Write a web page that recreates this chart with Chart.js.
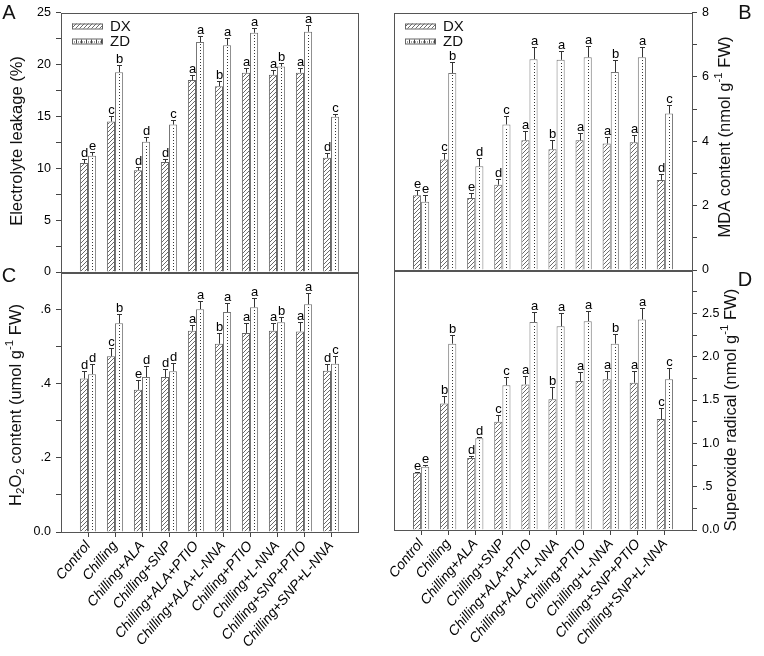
<!DOCTYPE html>
<html>
<head>
<meta charset="utf-8">
<script src="https://cdn.jsdelivr.net/npm/chart.js@4.4.1/dist/chart.umd.min.js"></script>
<style>
  html, body { margin: 0; padding: 0; background: #fff; }
  #wrap { position: relative; width: 764px; height: 656px; }
  #wrap canvas { position: absolute; left: 0; top: 0; }
</style>
</head>
<body>
<div id="wrap">
  <canvas id="panelA" width="764" height="656"></canvas>
  <canvas id="panelB" width="764" height="656"></canvas>
  <canvas id="panelC" width="764" height="656"></canvas>
  <canvas id="panelD" width="764" height="656"></canvas>
</div>
<script>
/* global Chart */
const treatments = [
  'Control', 'Chilling', 'Chilling+ALA', 'Chilling+SNP', 'Chilling+ALA+PTIO',
  'Chilling+ALA+L-NNA', 'Chilling+PTIO', 'Chilling+L-NNA', 'Chilling+SNP+PTIO', 'Chilling+SNP+L-NNA',
]

// A - electrolyte leakage (%)
const leakDX = [10.5, 14.5, 9.8, 10.6, 18.5, 17.9, 19.2, 19.0, 19.2, 11.0]
const leakDXErr = [0.4, 0.5, 0.35, 0.3, 0.5, 0.5, 0.5, 0.5, 0.5, 0.45]
const leakZD = [11.2, 19.25, 12.55, 14.2, 22.15, 21.85, 23.05, 19.8, 23.15, 14.95]
const leakZDErr = [0.4, 0.65, 0.45, 0.45, 0.6, 0.65, 0.45, 0.3, 0.6, 0.3]
const leakDXLetters = ['d', 'c', 'd', 'd', 'a', 'b', 'a', 'a', 'a', 'd']
const leakZDLetters = ['e', 'b', 'd', 'c', 'a', 'a', 'a', 'b', 'a', 'c']

// B - MDA content
const mdaDX = [2.32, 3.43, 2.24, 2.65, 4.03, 3.75, 4.03, 3.93, 3.97, 2.8]
const mdaDXErr = [0.15, 0.22, 0.15, 0.18, 0.3, 0.3, 0.23, 0.2, 0.23, 0.17]
const mdaZD = [2.12, 6.12, 3.22, 4.52, 6.55, 6.53, 6.61, 6.15, 6.61, 4.86]
const mdaZDErr = [0.2, 0.33, 0.26, 0.28, 0.37, 0.26, 0.35, 0.38, 0.31, 0.28]
const mdaDXLetters = ['e', 'c', 'e', 'd', 'a', 'b', 'a', 'a', 'a', 'd']
const mdaZDLetters = ['e', 'b', 'd', 'c', 'a', 'a', 'a', 'b', 'a', 'c']

// C - H2O2 content
const h2o2DX = [0.413, 0.473, 0.383, 0.417, 0.542, 0.507, 0.536, 0.542, 0.540, 0.434]
const h2o2DXErr = [0.021, 0.022, 0.025, 0.022, 0.014, 0.029, 0.026, 0.021, 0.025, 0.018]
const h2o2ZD = [0.425, 0.562, 0.417, 0.433, 0.600, 0.592, 0.605, 0.565, 0.613, 0.453]
const h2o2ZDErr = [0.027, 0.024, 0.031, 0.022, 0.022, 0.024, 0.025, 0.015, 0.030, 0.021]
const h2o2DXLetters = ['d', 'c', 'e', 'd', 'a', 'b', 'a', 'a', 'a', 'd']
const h2o2ZDLetters = ['d', 'b', 'd', 'd', 'a', 'a', 'a', 'b', 'a', 'c']

// D - superoxide radical
const superDX = [0.66, 1.46, 0.83, 1.25, 1.68, 1.51, 1.72, 1.74, 1.70, 1.28]
const superDXErr = [0.01, 0.09, 0.02, 0.08, 0.1, 0.14, 0.1, 0.09, 0.13, 0.13]
const superZD = [0.73, 2.15, 1.06, 1.67, 2.40, 2.35, 2.41, 2.15, 2.43, 1.74]
const superZDErr = [0.015, 0.1, 0.015, 0.1, 0.12, 0.15, 0.12, 0.11, 0.13, 0.13]
const superDXLetters = ['e', 'b', 'd', 'c', 'a', 'b', 'a', 'a', 'a', 'c']
const superZDLetters = ['e', 'b', 'd', 'c', 'a', 'a', 'a', 'b', 'a', 'c']

const FONT = '"Liberation Sans", Arial, Helvetica, sans-serif'
const LINE = '#555'

// empty slot at both ends so the groups sit one step in from the frame
const pad = (arr) => [null, ...arr, null]

function hatchPattern() {
  const c = document.createElement('canvas')
  c.width = 4
  c.height = 4
  const g = c.getContext('2d')
  g.fillStyle = '#fff'
  g.fillRect(0, 0, 4, 4)
  g.strokeStyle = '#6a6a6a'
  g.lineWidth = 1
  g.beginPath()
  g.moveTo(0, 4); g.lineTo(4, 0)
  g.moveTo(-1, 1); g.lineTo(1, -1)
  g.moveTo(3, 5); g.lineTo(5, 3)
  g.stroke()
  return g.createPattern(c, 'repeat')
}

function drawRich(ctx, segs, cx, cy, size) {
  const small = size * 0.7
  ctx.save()
  ctx.translate(cx, cy)
  ctx.rotate(-Math.PI / 2)
  ctx.textBaseline = 'middle'
  ctx.textAlign = 'left'
  ctx.fillStyle = '#111'
  let total = 0
  segs.forEach(([t, kind]) => {
    ctx.font = `${kind ? small : size}px ${FONT}`
    total += ctx.measureText(t).width
  })
  let x = -total / 2
  segs.forEach(([t, kind]) => {
    ctx.font = `${kind ? small : size}px ${FONT}`
    const dy = kind === 'sub' ? size * 0.3 : kind === 'sup' ? -size * 0.38 : 0
    ctx.fillText(t, x, dy)
    x += ctx.measureText(t).width
  })
  ctx.restore()
}

function decorPlugin(p) {
  return {
    id: 'decor',
    afterDatasetsDraw(chart) {
      const { ctx, chartArea: a } = chart
      const yScale = chart.scales.y
      ctx.save()

      // dotted centre line of the ZD bars
      chart.getDatasetMeta(1).data.forEach((bar, i) => {
        if (chart.data.datasets[1].data[i] == null) return
        ctx.fillStyle = '#333'
        for (let y = bar.base - 3; y > bar.y + 1; y -= 3) {
          ctx.fillRect(Math.round(bar.x), Math.round(y), 1, 1)
        }
      })

      // error bars + letters
      const sets = [[p.dx, p.dxErr, p.dxLetters], [p.zd, p.zdErr, p.zdLetters]]
      sets.forEach(([vals, errs, letters], di) => {
        chart.getDatasetMeta(di).data.forEach((bar, i) => {
          const k = i - 1
          if (k < 0 || k >= vals.length) return
          const x = Math.round(bar.x) + 0.5
          const yTop = Math.round(yScale.getPixelForValue(vals[k] + errs[k])) + 0.5
          ctx.strokeStyle = '#333'
          ctx.lineWidth = 1
          ctx.beginPath()
          ctx.moveTo(x, bar.y)
          ctx.lineTo(x, yTop)
          ctx.moveTo(x - 2.5, yTop)
          ctx.lineTo(x + 2.5, yTop)
          ctx.stroke()
          ctx.fillStyle = '#000'
          ctx.font = `13px ${FONT}`
          ctx.textAlign = 'center'
          ctx.textBaseline = 'bottom'
          ctx.fillText(letters[k], x, yTop)
        })
      })

      // frame
      ctx.strokeStyle = LINE
      ctx.lineWidth = 1
      ctx.strokeRect(Math.round(a.left) + 0.5, Math.round(a.top) + 0.5,
        Math.round(a.right - a.left), Math.round(a.bottom - a.top))

      // legend
      if (p.legend) {
        const lx = a.left + 11
        const ly = a.top + 11
        ctx.fillStyle = hatchPattern()
        ctx.fillRect(lx, ly, 30, 5)
        ctx.strokeStyle = '#666'
        ctx.strokeRect(lx + 0.5, ly + 0.5, 30, 5)
        ctx.fillStyle = '#fff'
        ctx.fillRect(lx, ly + 15, 30, 5)
        ctx.strokeRect(lx + 0.5, ly + 15.5, 30, 5)
        ctx.fillStyle = '#444'
        for (let x = lx + 2; x < lx + 30; x += 2) ctx.fillRect(x, ly + 18, 1, 1)
        for (let x = lx + 4; x < lx + 30; x += 5) ctx.fillRect(x, ly + 16, 1, 4)
        ctx.fillStyle = '#111'
        ctx.font = `15px ${FONT}`
        ctx.textAlign = 'left'
        ctx.textBaseline = 'middle'
        ctx.fillText('DX', lx + 38, ly + 3)
        ctx.fillText('ZD', lx + 38, ly + 18)
      }

      drawRich(ctx, p.title, p.titleX, p.titleY, 16.5)

      ctx.fillStyle = '#111'
      ctx.font = `20px ${FONT}`
      ctx.textAlign = 'center'
      ctx.textBaseline = 'middle'
      ctx.fillText(p.letter, p.letterX, p.letterY)
      ctx.restore()
    },
  }
}

function makePanel(id, p) {
  const { left, right, top, bottom } = p.area
  const yWidth = 44
  const xHeight = p.showX ? 656 - bottom : 0
  const padding = {
    top,
    left: p.side === 'left' ? left - yWidth : left,
    right: p.side === 'right' ? 764 - right - yWidth : 764 - right,
    bottom: 656 - bottom - xHeight,
  }
  const hatch = hatchPattern()
  return new Chart(document.getElementById(id), {
    type: 'bar',
    data: {
      labels: ['', ...treatments, ''],
      datasets: [
        { label: 'DX', data: pad(p.dx), backgroundColor: hatch, borderColor: '#666', borderWidth: 1 },
        { label: 'ZD', data: pad(p.zd), backgroundColor: '#fff', borderColor: '#777', borderWidth: 1 },
      ],
    },
    options: {
      responsive: false,
      devicePixelRatio: 1,
      animation: false,
      events: [],
      layout: { padding },
      datasets: { bar: { categoryPercentage: 0.6, barPercentage: 1 } },
      plugins: { legend: { display: false }, tooltip: { enabled: false } },
      scales: {
        x: {
          display: p.showX,
          offset: false,
          grid: {
            offset: false,
            drawOnChartArea: false,
            drawTicks: true,
            tickLength: 5,
            tickColor: (c) => (c.index === 0 || c.index === treatments.length + 1 ? 'rgba(0,0,0,0)' : '#444'),
          },
          border: { display: false },
          ticks: {
            autoSkip: false,
            minRotation: 50,
            maxRotation: 50,
            padding: 1,
            color: '#000',
            font: { family: FONT, size: 14, style: 'italic' },
          },
          afterFit: (s) => { s.height = xHeight },
        },
        y: {
          position: p.side,
          min: 0,
          max: p.yMax,
          grid: { drawOnChartArea: false, drawTicks: true, tickLength: 5, tickColor: '#444' },
          border: { display: false },
          ticks: {
            stepSize: p.yStep,
            autoSkip: false,
            padding: 5,
            color: '#000',
            font: { family: FONT, size: 12.5 },
            callback: p.fmt,
          },
          afterFit: (s) => { s.width = yWidth },
        },
      },
    },
    plugins: [decorPlugin(p)],
  })
}

makePanel('panelA', {
  dx: leakDX, dxErr: leakDXErr, zd: leakZD, zdErr: leakZDErr,
  dxLetters: leakDXLetters, zdLetters: leakZDLetters,
  area: { left: 61, right: 358, top: 11, bottom: 272 },
  side: 'left', showX: false, yMax: 25, yStep: 2.5,
  fmt: (v) => (v % 5 === 0 ? String(v) : ''),
  title: [['Electrolyte leakage (%)']], titleX: 17, titleY: 141,
  letter: 'A', letterX: 9, letterY: 13, legend: true,
})

makePanel('panelB', {
  dx: mdaDX, dxErr: mdaDXErr, zd: mdaZD, zdErr: mdaZDErr,
  dxLetters: mdaDXLetters, zdLetters: mdaZDLetters,
  area: { left: 394, right: 692, top: 10, bottom: 270 },
  side: 'right', showX: false, yMax: 8, yStep: 1,
  fmt: (v) => (v % 2 === 0 ? String(v) : ''),
  title: [['MDA content (nmol g'], ['-1', 'sup'], [' FW)']], titleX: 725, titleY: 137,
  letter: 'B', letterX: 745, letterY: 13, legend: true,
})

makePanel('panelC', {
  dx: h2o2DX, dxErr: h2o2DXErr, zd: h2o2ZD, zdErr: h2o2ZDErr,
  dxLetters: h2o2DXLetters, zdLetters: h2o2ZDLetters,
  area: { left: 61, right: 358, top: 272, bottom: 532 },
  side: 'left', showX: true, yMax: 0.7, yStep: 0.1,
  fmt: (v) => {
    const k = Math.round(v * 10)
    if (k % 2) return ''
    return k === 0 ? '0.0' : (k / 10).toFixed(1).replace(/^0/, '')
  },
  title: [['H'], ['2', 'sub'], ['O'], ['2', 'sub'], [' content (umol g'], ['-1', 'sup'], [' FW)']],
  titleX: 16, titleY: 405,
  letter: 'C', letterX: 9, letterY: 276, legend: false,
})

makePanel('panelD', {
  dx: superDX, dxErr: superDXErr, zd: superZD, zdErr: superZDErr,
  dxLetters: superDXLetters, zdLetters: superZDLetters,
  area: { left: 394, right: 692, top: 270, bottom: 530 },
  side: 'right', showX: true, yMax: 3, yStep: 0.25,
  fmt: (v) => {
    const k = Math.round(v * 4)
    if (k % 2 || k === 12) return ''
    return k === 0 ? '0.0' : (k / 4).toFixed(1).replace(/^0/, '')
  },
  title: [['Superoxide radical (nmol g'], ['-1', 'sup'], [' FW)']], titleX: 731, titleY: 410,
  letter: 'D', letterX: 745, letterY: 280, legend: false,
})
</script>
</body>
</html>
